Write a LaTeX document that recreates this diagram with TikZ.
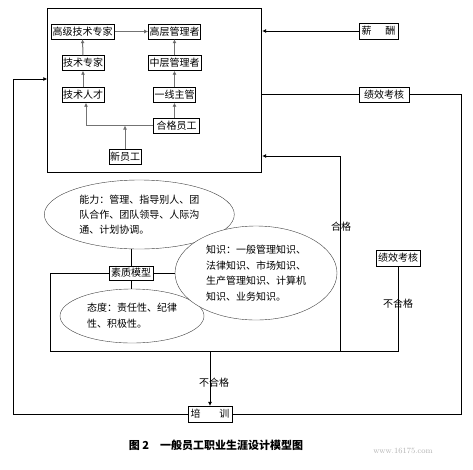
\documentclass[tikz,border=0pt]{standalone}
\usepackage{fontspec}
\newfontfamily\cjk{Noto Sans CJK SC}
\usetikzlibrary{arrows.meta,shapes.geometric,backgrounds}

\begin{document}
\begin{tikzpicture}[x=1pt,y=-1pt,
  box/.style={draw,fill=white,inner sep=1pt,minimum height=15pt,font=\cjk\fontsize{10}{12}\selectfont},
  oval/.style={ellipse,draw=black!75,fill=white,inner sep=0pt,align=left,font=\cjk\fontsize{10}{15}\selectfont},
  lbl/.style={inner sep=0pt,font=\cjk\fontsize{10}{12}\selectfont},
  ln/.style={line width=0.8pt},
  arr/.style={-{Latex[length=4pt,width=4pt]},line width=0.8pt},
  garr/.style={-{Latex[length=4pt,width=4pt,fill=black]},draw=black!55,line width=1pt}
]
\useasboundingbox (0,0) rectangle (473,469);
% career ladder frame
\node[draw,line width=0.8pt,minimum width=214pt,minimum height=164pt,inner sep=0pt] (frame) at (154.7,90) {};
\node[box,minimum width=63.6pt] (gjzj) at (82.5,31.5) {高级技术专家};
\node[box,minimum width=52.3pt] (gcgl) at (174.5,31.5) {高层管理者};
\node[box,minimum width=42.6pt] (jszj) at (83,63) {技术专家};
\node[box,minimum width=53.3pt] (zcgl) at (174.5,63) {中层管理者};
\node[box,minimum width=42.6pt] (jsrc) at (83,95) {技术人才};
\node[box,minimum width=42pt] (yxzg) at (174.5,95) {一线主管};
\node[box,minimum width=46pt] (hgyg) at (176.5,125.5) {合格员工};
\node[box,minimum width=32pt] (xyg) at (125,156.5) {新员工};
\draw[garr] (gjzj.east) -- (gcgl.west);
\draw[garr] (jszj.north) -- (gjzj.south);
\draw[garr] (jsrc.north) -- (jszj.south);
\draw[garr] (zcgl.north) -- (gcgl.south);
\draw[garr] (yxzg.north) -- (zcgl.south);
\draw[garr] (yxzg.south |- hgyg.north) -- (yxzg.south);
\draw[garr] (hgyg.west) -| ([xshift=3pt]jsrc.south);
\draw[garr] (xyg.north) -- (xyg.north |- hgyg.west);
% right side
\node[box,minimum width=39pt,minimum height=16pt] (xc) at (378.5,31) {薪\hspace{1.4em}酬};
\node[box,minimum width=50pt] (jxkh1) at (384,94.5) {绩效考核};
\node[box,minimum width=44pt,minimum height=15.7pt] (jxkh2) at (398,258) {绩效考核};
\node[box,minimum width=43.4pt,minimum height=15.7pt] (px) at (210,414) {培\hspace{1.9em}训};
\coordinate (cLt) at (13,79);
\coordinate (cRb) at (461.7,414);
\coordinate (cB1) at (50.7,351.7);
\coordinate (cHg) at (340,351.7);
\coordinate (cHgT) at (340,156);
\draw[arr] (xc.west) -- (xc.west -| frame.east);
\draw[ln] (jxkh1.west) -- (jxkh1.west -| frame.east);
\draw[ln] (jxkh1.east) -| (cRb) -- (px.east);
\draw[arr] (px.west) -| (cLt) -- (cLt -| frame.west);
% competency model
\node[oval,minimum width=190pt,minimum height=69pt] (nl) at (139.3,214.5)
  {能力：管理、指导别人、团\\队合作、团队领导、人际沟\\通、计划协调。};
\node[box,minimum width=43.7pt,minimum height=14.3pt] (szmx) at (131,273) {素质模型};
\node[oval,minimum width=144pt,minimum height=54pt,font=\cjk\fontsize{10}{16}\selectfont] (td) at (132,316)
  {态度：责任性、纪律\\性、积极性。};
\node[oval,minimum width=162pt,minimum height=94pt,font=\cjk\fontsize{10}{15.5}\selectfont] (zs) at (256,273)
  {知识：一般管理知识、\\法律知识、市场知识、\\生产管理知识、计算机\\知识、业务知识。};
\begin{scope}[on background layer]
\draw[ln] (szmx.north) -- (szmx.north |- nl.south);
\draw[ln] (szmx.south) -- (szmx.south |- td.north);
\draw[ln] (szmx.east) -- (zs.west);
\end{scope}
\draw[ln] (szmx.west) -| (cB1) -| (jxkh2.south);
\draw[arr] (cHg) -- (cHgT) -- (cHgT -| frame.east);
\draw[arr] (px.north |- cB1) -- (px.north);
\node[lbl] (hg) at (341,227) {合格};
\node[lbl] (bhg1) at (398,304) {不合格};
\node[lbl] (bhg2) at (214,383) {不合格};
% caption
\node[font=\cjk\bfseries\fontsize{11}{13}\selectfont] (cap) at (216,445) {图 2\quad 一般员工职业生涯设计模型图};
\node[text=black!30,font=\fontsize{8}{10}\selectfont] (wm) at (403,451) {www.16175.com};
\end{tikzpicture}
\end{document}
